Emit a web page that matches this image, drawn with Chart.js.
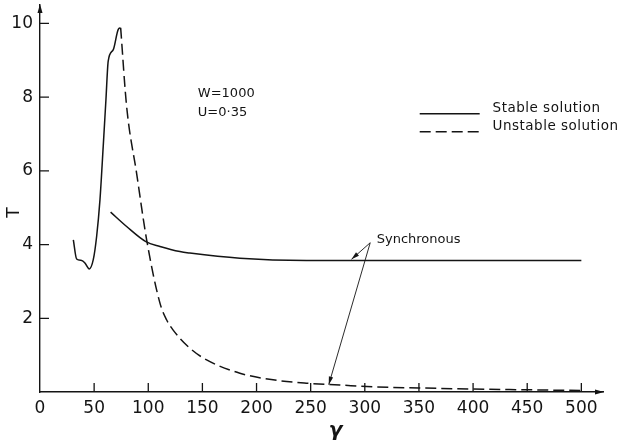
<!DOCTYPE html>
<html>
<head>
<meta charset="utf-8">
<script src="https://cdn.jsdelivr.net/npm/chart.js@4.4.1/dist/chart.umd.min.js"></script>
<style>
html,body{margin:0;padding:0;background:#fff;}
canvas{display:block;}
</style>
</head>
<body>
<canvas id="c" width="620" height="442"></canvas>
<script>
// ---- tick labels ----
const xTickValues = [0, 50, 100, 150, 200, 250, 300, 350, 400, 450, 500];
const yTickValues = [2, 4, 6, 8, 10];

// ---- series values (gamma, T) ----
const unstableSolidX = [30.8, 33.8, 38.5, 41.5, 45.5, 49.2, 52.3, 55.4, 58.4, 60.9, 63.0, 67.7, 72.3, 74.5];
const unstableSolidY = [4.13, 3.61, 3.57, 3.50, 3.34, 3.59, 4.22, 5.22, 6.67, 7.93, 8.98, 9.29, 9.84, 9.88];

const unstableDashX = [74.5, 80, 89.2, 98.5, 110.8, 116.9, 123, 138.4, 153.9, 184.6, 215.3, 246, 276.9, 307.6, 350, 400, 450, 500];
const unstableDashY = [9.88, 7.75, 5.94, 4.13, 2.41, 1.96, 1.68, 1.19, 0.87, 0.51, 0.33, 0.24, 0.19, 0.14, 0.11, 0.08, 0.06, 0.04];

const stableX = [65.2, 80, 97.8, 110.8, 129.2, 138.4, 184.6, 246, 314, 400, 500];
const stableY = [4.88, 4.49, 4.08, 3.95, 3.81, 3.77, 3.63, 3.57, 3.57, 3.57, 3.57];

// ---- texts ----
const paramLines = ['W=1000', 'U=0\u00B735'];
const legendLabels = ['Stable solution', 'Unstable solution'];
const syncLabel = 'Synchronous';
const xTitle = '\u03B3';
const yTitle = 'T';

// ---- styling / placement (not data) ----
const ink = '#141414';
const FONT = "'DejaVu Sans'";
const dashPattern = [11, 5];
const place = {
  params: [{x: 145.8, y: 8.0}, {x: 145.8, y: 7.48}],
  legendLine: {x0: 350.7, x1: 406.1, y: [7.55, 7.06]},
  legendText: {x: 418, y: [7.59, 7.1]},
  syncText: {x: 311, y: 4.03},
  syncFrom: {x: 305, y: 4.05},
  syncTo: [{x: 287.7, y: 3.6}, {x: 266.7, y: 0.2}]
};

const pts = (xs, ys) => xs.map((v, i) => ({x: v, y: ys[i]}));

function arrowHead(ctx, x0, y0, x1, y1, len, half) {
  const ang = Math.atan2(y1 - y0, x1 - x0);
  ctx.beginPath();
  ctx.moveTo(x1, y1);
  ctx.lineTo(x1 - len * Math.cos(ang) + half * Math.sin(ang), y1 - len * Math.sin(ang) - half * Math.cos(ang));
  ctx.lineTo(x1 - len * Math.cos(ang) - half * Math.sin(ang), y1 - len * Math.sin(ang) + half * Math.cos(ang));
  ctx.closePath();
  ctx.fill();
}

const annotPlugin = {
  id: 'annot',
  afterDatasetsDraw(chart) {
    const {ctx, chartArea: a, scales: {x, y}} = chart;
    const px = v => x.getPixelForValue(v), py = v => y.getPixelForValue(v);
    ctx.save();
    ctx.strokeStyle = ink; ctx.fillStyle = ink; ctx.lineWidth = 1.3;
    // inward tick marks
    ctx.beginPath();
    xTickValues.forEach(v => { if (v === 0) return; const X = px(v); ctx.moveTo(X, a.bottom); ctx.lineTo(X, a.bottom - 9); });
    yTickValues.forEach(v => { const Y = py(v); ctx.moveTo(a.left, Y); ctx.lineTo(a.left + 9, Y); });
    ctx.stroke();
    // axis arrowheads
    arrowHead(ctx, a.right - 10, a.bottom, a.right + 1, a.bottom, 9, 2.5);
    arrowHead(ctx, a.left, a.top + 10, a.left, a.top - 1, 9, 2.5);

    // parameter notes
    ctx.font = '13px ' + FONT;
    ctx.textAlign = 'left'; ctx.textBaseline = 'alphabetic';
    paramLines.forEach((t, i) => ctx.fillText(t, px(place.params[i].x), py(place.params[i].y)));

    // legend
    ctx.lineWidth = 1.4;
    ctx.beginPath(); ctx.moveTo(px(place.legendLine.x0), py(place.legendLine.y[0])); ctx.lineTo(px(place.legendLine.x1), py(place.legendLine.y[0])); ctx.stroke();
    ctx.setLineDash(dashPattern);
    ctx.beginPath(); ctx.moveTo(px(place.legendLine.x0), py(place.legendLine.y[1])); ctx.lineTo(px(place.legendLine.x1), py(place.legendLine.y[1])); ctx.stroke();
    ctx.setLineDash([]);
    ctx.font = '13.5px ' + FONT;
    try { ctx.letterSpacing = '0.5px'; } catch (e) {}
    legendLabels.forEach((t, i) => ctx.fillText(t, px(place.legendText.x), py(place.legendText.y[i])));
    try { ctx.letterSpacing = '0px'; } catch (e) {}

    // Synchronous annotation
    ctx.font = '13px ' + FONT;
    ctx.fillText(syncLabel, px(place.syncText.x), py(place.syncText.y));
    ctx.lineWidth = 0.9;
    const fx = px(place.syncFrom.x), fy = py(place.syncFrom.y);
    place.syncTo.forEach(p => {
      const tx = px(p.x), ty = py(p.y);
      ctx.beginPath(); ctx.moveTo(fx, fy); ctx.lineTo(tx, ty); ctx.stroke();
      arrowHead(ctx, fx, fy, tx, ty, 8, 2.2);
    });

    // axis titles
    ctx.font = 'italic bold 20px ' + FONT;
    ctx.textAlign = 'center'; ctx.textBaseline = 'middle';
    ctx.fillText(xTitle, px(273), a.bottom + 39);
    ctx.save();
    ctx.font = '17px ' + FONT;
    ctx.translate(15, py(4.87));
    ctx.rotate(-Math.PI / 2);
    ctx.fillText(yTitle, 0, 0);
    ctx.restore();
    ctx.restore();
  }
};

const lineStyle = {borderColor: ink, borderWidth: 1.5, pointRadius: 0, fill: false, cubicInterpolationMode: 'monotone'};

new Chart(document.getElementById('c'), {
  type: 'line',
  data: {
    datasets: [
      Object.assign({label: 'Unstable (solid part)', data: pts(unstableSolidX, unstableSolidY)}, lineStyle),
      Object.assign({label: 'Unstable solution', data: pts(unstableDashX, unstableDashY), borderDash: dashPattern}, lineStyle),
      Object.assign({label: 'Stable solution', data: pts(stableX, stableY)}, lineStyle)
    ]
  },
  options: {
    responsive: false,
    animation: false,
    devicePixelRatio: 1,
    layout: {padding: {top: 5, right: 17, left: 0, bottom: 0}},
    plugins: {legend: {display: false}, tooltip: {enabled: false}},
    scales: {
      x: {
        type: 'linear', min: 0, max: 520,
        afterBuildTicks: s => { s.ticks = xTickValues.map(v => ({value: v})); },
        afterFit: s => { s.height = 50; s.paddingLeft = 0; s.paddingRight = 0; },
        grid: {display: false, drawTicks: false},
        border: {display: true, color: ink, width: 1.4},
        ticks: {color: ink, font: {family: FONT, size: 17}, padding: 6, maxRotation: 0, autoSkip: false}
      },
      y: {
        type: 'linear', min: 0, max: 10.5,
        afterBuildTicks: s => { s.ticks = yTickValues.map(v => ({value: v})); },
        afterFit: s => { s.width = 40; s.paddingTop = 0; s.paddingBottom = 0; },
        grid: {display: false, drawTicks: false},
        border: {display: true, color: ink, width: 1.4},
        ticks: {color: ink, font: {family: FONT, size: 17}, padding: 7}
      }
    }
  },
  plugins: [annotPlugin]
});
</script>
</body>
</html>
